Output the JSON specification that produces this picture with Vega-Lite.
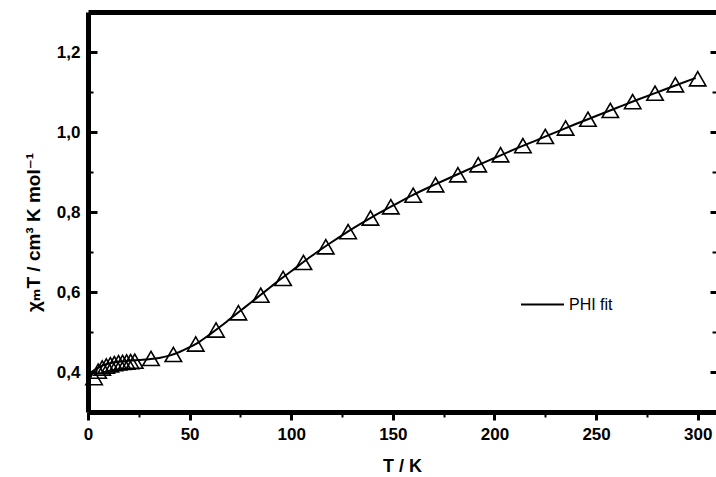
{
  "$schema": "https://vega.github.io/schema/vega-lite/v6.json",
  "width": 628,
  "height": 400,
  "autosize": {"type": "none"},
  "padding": {"left": 88, "top": 12, "right": 0, "bottom": 65},
  "config": {
    "view": {"stroke": null},
    "font": "Liberation Sans",
    "axis": {"domainColor": "black", "tickColor": "black", "labelColor": "black", "titleColor": "black", "grid": false, "labelFont": "Liberation Sans", "titleFont": "Liberation Sans, DejaVu Sans"}
  },
  "datasets": {
    "obs": [
      {"T": 3, "chiT": 0.386},
      {"T": 5, "chiT": 0.402},
      {"T": 7, "chiT": 0.41},
      {"T": 9, "chiT": 0.415},
      {"T": 11, "chiT": 0.418},
      {"T": 13, "chiT": 0.421},
      {"T": 15, "chiT": 0.423},
      {"T": 17, "chiT": 0.424},
      {"T": 19, "chiT": 0.425},
      {"T": 21, "chiT": 0.426},
      {"T": 23, "chiT": 0.427},
      {"T": 31, "chiT": 0.434},
      {"T": 42, "chiT": 0.444},
      {"T": 53, "chiT": 0.47},
      {"T": 63, "chiT": 0.505},
      {"T": 74, "chiT": 0.548},
      {"T": 85, "chiT": 0.592},
      {"T": 96, "chiT": 0.634},
      {"T": 106, "chiT": 0.674},
      {"T": 117, "chiT": 0.713},
      {"T": 128, "chiT": 0.751},
      {"T": 139, "chiT": 0.785},
      {"T": 149, "chiT": 0.813},
      {"T": 160, "chiT": 0.842},
      {"T": 171, "chiT": 0.868},
      {"T": 182, "chiT": 0.893},
      {"T": 192, "chiT": 0.918},
      {"T": 203, "chiT": 0.943},
      {"T": 214, "chiT": 0.966},
      {"T": 225, "chiT": 0.989},
      {"T": 235, "chiT": 1.01},
      {"T": 246, "chiT": 1.032},
      {"T": 257, "chiT": 1.054},
      {"T": 268, "chiT": 1.076},
      {"T": 279, "chiT": 1.097},
      {"T": 289, "chiT": 1.118},
      {"T": 300, "chiT": 1.133}
    ],
    "fit": [
      {"T": 1, "chiT": 0.398},
      {"T": 3, "chiT": 0.404},
      {"T": 5, "chiT": 0.411},
      {"T": 8, "chiT": 0.418},
      {"T": 12, "chiT": 0.423},
      {"T": 16, "chiT": 0.426},
      {"T": 20, "chiT": 0.428},
      {"T": 25, "chiT": 0.43},
      {"T": 30, "chiT": 0.432},
      {"T": 35, "chiT": 0.435},
      {"T": 40, "chiT": 0.441},
      {"T": 45, "chiT": 0.45},
      {"T": 50, "chiT": 0.462},
      {"T": 55, "chiT": 0.476},
      {"T": 60, "chiT": 0.494},
      {"T": 65, "chiT": 0.513},
      {"T": 70, "chiT": 0.533},
      {"T": 75, "chiT": 0.553},
      {"T": 80, "chiT": 0.573},
      {"T": 85, "chiT": 0.593},
      {"T": 90, "chiT": 0.613},
      {"T": 95, "chiT": 0.633},
      {"T": 100, "chiT": 0.652},
      {"T": 110, "chiT": 0.69},
      {"T": 120, "chiT": 0.725},
      {"T": 130, "chiT": 0.758},
      {"T": 140, "chiT": 0.788},
      {"T": 150, "chiT": 0.816},
      {"T": 160, "chiT": 0.843},
      {"T": 170, "chiT": 0.867},
      {"T": 180, "chiT": 0.89},
      {"T": 190, "chiT": 0.913},
      {"T": 200, "chiT": 0.935},
      {"T": 210, "chiT": 0.957},
      {"T": 220, "chiT": 0.978},
      {"T": 230, "chiT": 0.999},
      {"T": 240, "chiT": 1.02},
      {"T": 250, "chiT": 1.04},
      {"T": 260, "chiT": 1.06},
      {"T": 270, "chiT": 1.08},
      {"T": 280, "chiT": 1.099},
      {"T": 290, "chiT": 1.118},
      {"T": 299, "chiT": 1.135}
    ]
  },
  "layer": [
    {
      "data": {"name": "obs"},
      "mark": {"type": "point", "shape": "triangle-up", "filled": false, "stroke": "black", "strokeWidth": 1.6, "size": 270, "opacity": 1},
      "encoding": {
        "x": {
          "field": "T", "type": "quantitative",
          "scale": {"domain": [0, 309], "nice": false, "zero": false},
          "axis": {
            "orient": "bottom",
            "values": [0, 25, 50, 75, 100, 125, 150, 175, 200, 225, 250, 275, 300],
            "labelExpr": "datum.value % 50 == 0 ? datum.label : ''",
            "tickSize": {"condition": {"test": "datum.value % 50 == 0", "value": 8}, "value": 5},
            "tickWidth": {"condition": {"test": "datum.value % 50 == 0", "value": 3}, "value": 2},
            "domainWidth": 5,
            "labelFontSize": 17,
            "labelFontWeight": "bold",
            "labelPadding": 6,
            "labelOverlap": false,
            "labelFlush": false,
            "labelBound": false,
            "title": "T / K",
            "titleFontSize": 18,
            "titleFontWeight": "bold",
            "titlePadding": 15
          }
        },
        "y": {
          "field": "chiT", "type": "quantitative",
          "scale": {"domain": [0.3, 1.3], "nice": false, "zero": false},
          "axis": {
            "orient": "left",
            "values": [0.4, 0.5, 0.6, 0.7, 0.8, 0.9, 1.0, 1.1, 1.2],
            "labelExpr": "round(datum.value*10) % 2 == 0 ? replace(format(datum.value, '.1f'), '.', ',') : ''",
            "tickSize": {"condition": {"test": "round(datum.value*10) % 2 == 0", "value": -9}, "value": -5},
            "tickWidth": {"condition": {"test": "round(datum.value*10) % 2 == 0", "value": 3}, "value": 2},
            "domainWidth": 5,
            "labelFontSize": 17,
            "labelFontWeight": "bold",
            "labelPadding": 17,
            "labelOverlap": false,
            "labelFlush": false,
            "labelBound": false,
            "title": "χₘT / cm³ K mol⁻¹",
            "titleFontSize": 19,
            "titleFontWeight": "bold",
            "titlePadding": 13,
            "titleY": 220
          }
        }
      }
    },
    {
      "data": {"name": "fit"},
      "mark": {"type": "line", "strokeWidth": 2, "interpolate": "monotone"},
      "encoding": {
        "x": {
          "field": "T", "type": "quantitative",
          "axis": {"orient": "top", "domainWidth": 5, "ticks": false, "labels": false, "title": null, "domainColor": "black"}
        },
        "y": {
          "field": "chiT", "type": "quantitative",
          "axis": {
            "orient": "right",
            "values": [0.4, 0.5, 0.6, 0.7, 0.8, 0.9, 1.0, 1.1, 1.2],
            "domain": false,
            "labels": false,
            "title": null,
            "tickSize": {"condition": {"test": "round(datum.value*10) % 2 == 0", "value": -6}, "value": -4},
            "tickWidth": {"condition": {"test": "round(datum.value*10) % 2 == 0", "value": 3}, "value": 2}
          }
        },
        "color": {
          "datum": "PHI fit",
          "scale": {"range": ["black"]},
          "legend": {
            "orient": "none",
            "legendX": 432,
            "legendY": 270,
            "title": null,
            "padding": 0,
            "symbolType": "stroke",
            "symbolSize": 1849,
            "symbolStrokeWidth": 2,
            "labelFontSize": 16,
            "labelFont": "Liberation Sans",
            "labelColor": "black",
            "labelOffset": 4
          }
        }
      }
    }
  ],
  "resolve": {"axis": {"x": "independent", "y": "independent"}}
}
